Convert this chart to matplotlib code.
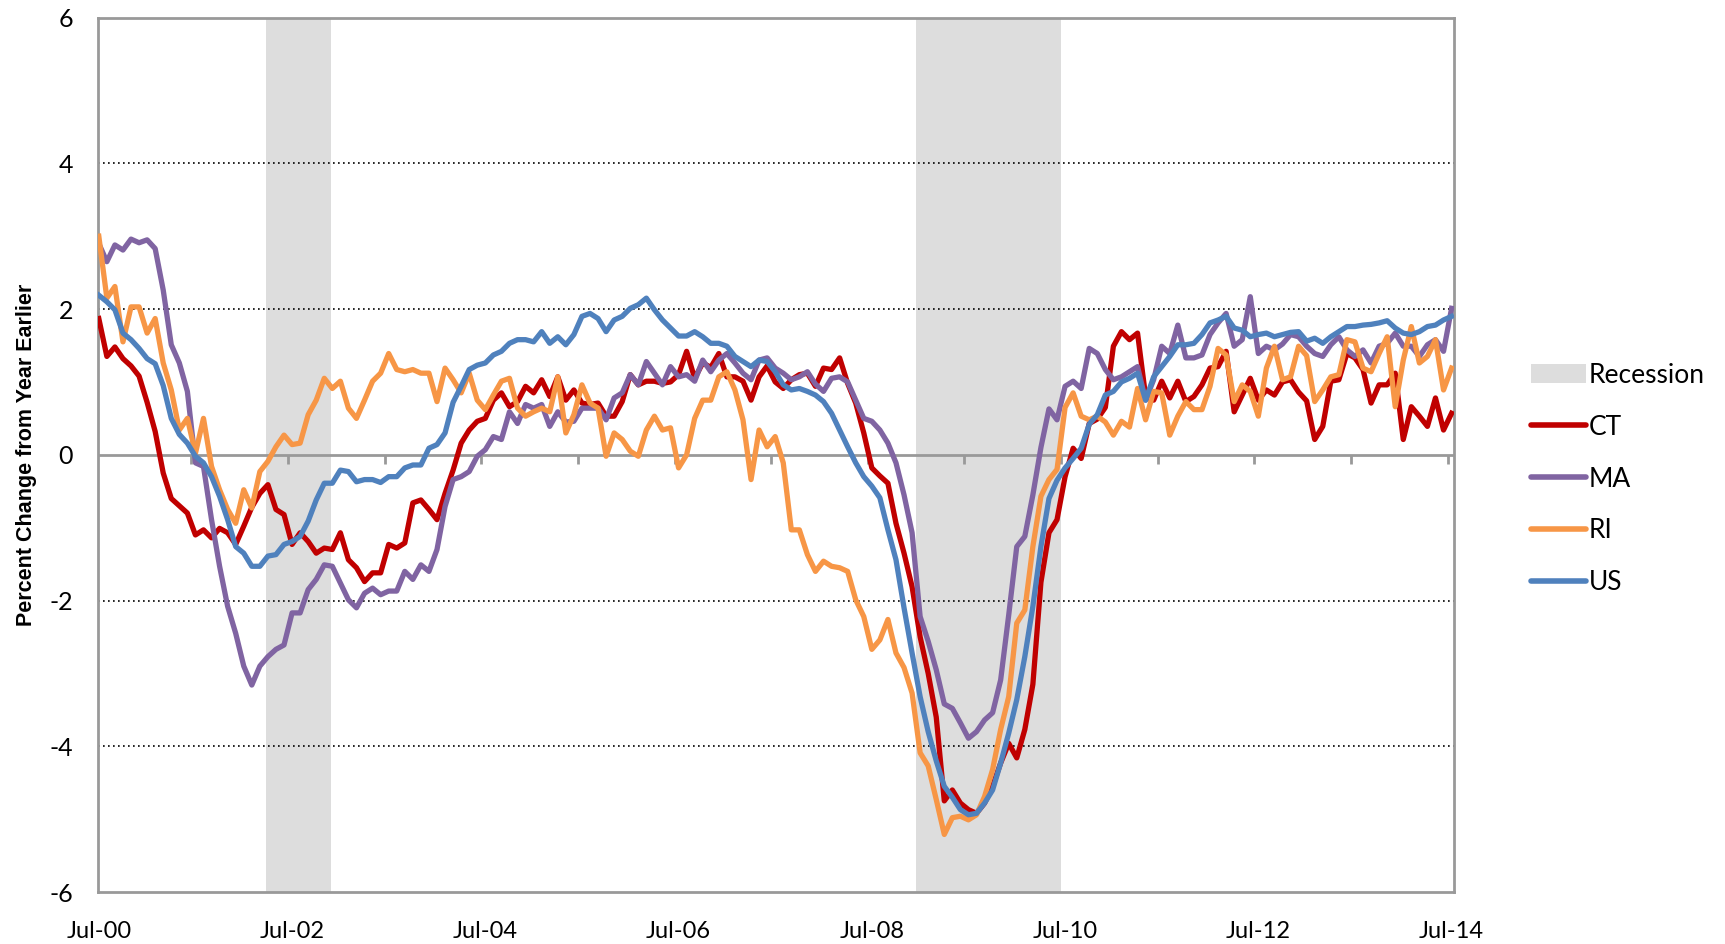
import matplotlib
matplotlib.use("Agg")
import matplotlib.pyplot as plt
from matplotlib.patches import Patch
from matplotlib.lines import Line2D
import numpy as np

# monthly year-over-year % change, Jul-2000 .. Jul-2014 (169 months)
ct = [1.87, 1.35, 1.48, 1.32, 1.22, 1.08, 0.72, 0.32, -0.25, -0.60, -0.70, -0.80,
      -1.10, -1.03, -1.14, -1.01, -1.07, -1.23, -0.98, -0.72, -0.53, -0.41, -0.75, -0.82,
      -1.23, -1.07, -1.19, -1.35, -1.28, -1.30, -1.07, -1.44, -1.55, -1.74, -1.62, -1.62,
      -1.23, -1.28, -1.21, -0.66, -0.62, -0.75, -0.89, -0.53, -0.21, 0.16, 0.34, 0.46,
      0.50, 0.75, 0.85, 0.66, 0.73, 0.94, 0.85, 1.03, 0.80, 1.07, 0.75, 0.89,
      0.71, 0.69, 0.71, 0.53, 0.53, 0.73, 1.10, 0.96, 1.01, 1.01, 0.98, 1.00,
      1.10, 1.42, 1.05, 1.26, 1.20, 1.39, 1.07, 1.07, 1.01, 0.75, 1.07, 1.22,
      1.00, 0.91, 1.03, 1.10, 1.12, 0.94, 1.19, 1.17, 1.33, 0.98, 0.71, 0.30,
      -0.18, -0.29, -0.39, -0.94, -1.35, -1.81, -2.50, -3.00, -3.60, -4.75, -4.60, -4.78,
      -4.87, -4.92, -4.78, -4.55, -4.23, -3.96, -4.16, -3.77, -3.15, -1.75, -1.07, -0.89,
      -0.30, 0.09, -0.05, 0.43, 0.49, 0.65, 1.49, 1.69, 1.58, 1.67, 0.80, 0.75,
      1.01, 0.78, 1.01, 0.73, 0.80, 0.96, 1.19, 1.21, 1.42, 0.59, 0.82, 1.05,
      0.75, 0.89, 0.82, 1.00, 1.03, 0.86, 0.74, 0.21, 0.39, 1.01, 1.03, 1.39,
      1.33, 1.17, 0.71, 0.96, 0.96, 1.12, 0.21, 0.66, 0.53, 0.39, 0.78, 0.34,
      0.57]
ma = [2.90, 2.65, 2.88, 2.81, 2.96, 2.91, 2.95, 2.83, 2.26, 1.51, 1.26, 0.87,
      -0.11, -0.16, -0.89, -1.53, -2.08, -2.45, -2.90, -3.16, -2.90, -2.77, -2.67, -2.61,
      -2.17, -2.17, -1.85, -1.71, -1.51, -1.53, -1.76, -1.99, -2.10, -1.90, -1.83, -1.92,
      -1.87, -1.87, -1.60, -1.71, -1.51, -1.60, -1.30, -0.71, -0.34, -0.30, -0.23, -0.02,
      0.07, 0.25, 0.21, 0.59, 0.43, 0.69, 0.64, 0.69, 0.39, 0.59, 0.45, 0.46,
      0.64, 0.64, 0.64, 0.48, 0.78, 0.85, 1.10, 0.96, 1.28, 1.12, 0.96, 1.21,
      1.07, 1.10, 1.01, 1.30, 1.14, 1.30, 1.39, 1.26, 1.12, 1.03, 1.30, 1.33,
      1.19, 1.12, 1.03, 1.07, 1.14, 0.97, 0.87, 1.05, 1.07, 1.00, 0.75, 0.50,
      0.46, 0.34, 0.16, -0.11, -0.55, -1.07, -2.22, -2.56, -2.95, -3.42, -3.48, -3.68,
      -3.89, -3.80, -3.64, -3.54, -3.09, -2.20, -1.26, -1.12, -0.55, 0.10, 0.63, 0.48,
      0.94, 1.01, 0.91, 1.46, 1.39, 1.17, 1.03, 1.07, 1.14, 1.21, 0.75, 1.03,
      1.49, 1.39, 1.78, 1.33, 1.33, 1.37, 1.65, 1.81, 1.94, 1.49, 1.58, 2.17,
      1.39, 1.49, 1.44, 1.52, 1.65, 1.62, 1.49, 1.39, 1.35, 1.51, 1.62, 1.44,
      1.35, 1.44, 1.26, 1.49, 1.53, 1.67, 1.49, 1.49, 1.35, 1.51, 1.58, 1.42,
      2.01]
ri = [3.00, 2.15, 2.31, 1.55, 2.03, 2.03, 1.67, 1.87, 1.26, 0.89, 0.34, 0.50,
      0.02, 0.50, -0.16, -0.48, -0.75, -0.94, -0.48, -0.73, -0.23, -0.09, 0.11, 0.27,
      0.14, 0.16, 0.55, 0.75, 1.05, 0.91, 1.01, 0.64, 0.50, 0.75, 1.01, 1.12,
      1.39, 1.17, 1.14, 1.17, 1.12, 1.12, 0.73, 1.19, 1.03, 0.85, 1.12, 0.75,
      0.62, 0.82, 1.01, 1.05, 0.64, 0.53, 0.59, 0.64, 0.59, 1.07, 0.30, 0.55,
      0.96, 0.71, 0.64, -0.02, 0.30, 0.21, 0.05, -0.02, 0.34, 0.53, 0.34, 0.37,
      -0.18, 0.00, 0.50, 0.75, 0.75, 1.07, 1.14, 0.89, 0.48, -0.34, 0.34, 0.11,
      0.25, -0.11, -1.03, -1.03, -1.37, -1.60, -1.46, -1.53, -1.55, -1.60, -1.99, -2.22,
      -2.67, -2.54, -2.26, -2.72, -2.92, -3.27, -4.09, -4.27, -4.73, -5.21, -4.98, -4.96,
      -5.01, -4.94, -4.69, -4.32, -3.77, -3.32, -2.31, -2.13, -1.26, -0.57, -0.34, -0.20,
      0.65, 0.85, 0.53, 0.48, 0.53, 0.45, 0.27, 0.46, 0.38, 0.91, 0.48, 0.87,
      0.85, 0.27, 0.53, 0.73, 0.62, 0.62, 0.94, 1.46, 1.37, 0.73, 0.96, 0.87,
      0.53, 1.19, 1.49, 1.03, 1.07, 1.49, 1.36, 0.73, 0.89, 1.07, 1.10, 1.58,
      1.55, 1.19, 1.14, 1.39, 1.62, 0.66, 1.30, 1.76, 1.26, 1.35, 1.58, 0.89,
      1.19]
us = [2.19, 2.10, 1.99, 1.67, 1.58, 1.46, 1.32, 1.25, 0.95, 0.50, 0.28, 0.16,
      -0.02, -0.11, -0.30, -0.57, -0.89, -1.26, -1.35, -1.53, -1.53, -1.39, -1.37, -1.23,
      -1.19, -1.12, -0.91, -0.62, -0.39, -0.39, -0.21, -0.23, -0.37, -0.34, -0.34, -0.38,
      -0.30, -0.30, -0.18, -0.14, -0.14, 0.09, 0.14, 0.30, 0.72, 0.94, 1.17, 1.23,
      1.26, 1.37, 1.42, 1.53, 1.58, 1.58, 1.55, 1.69, 1.53, 1.62, 1.51, 1.65,
      1.90, 1.94, 1.87, 1.69, 1.85, 1.90, 2.01, 2.06, 2.15, 1.99, 1.85, 1.74,
      1.63, 1.63, 1.69, 1.62, 1.53, 1.53, 1.49, 1.35, 1.28, 1.21, 1.30, 1.28,
      1.14, 0.96, 0.89, 0.91, 0.87, 0.82, 0.73, 0.57, 0.34, 0.11, -0.11, -0.30,
      -0.43, -0.59, -1.03, -1.44, -2.10, -2.72, -3.32, -3.80, -4.20, -4.55, -4.70, -4.87,
      -4.94, -4.92, -4.78, -4.60, -4.23, -3.82, -3.36, -2.77, -2.08, -1.26, -0.60, -0.35,
      -0.18, -0.05, 0.09, 0.42, 0.55, 0.82, 0.87, 1.00, 1.05, 1.12, 0.75, 1.07,
      1.21, 1.35, 1.51, 1.51, 1.53, 1.65, 1.81, 1.85, 1.90, 1.74, 1.71, 1.62,
      1.65, 1.67, 1.62, 1.65, 1.68, 1.69, 1.56, 1.60, 1.53, 1.62, 1.69, 1.76,
      1.76, 1.78, 1.79, 1.81, 1.84, 1.74, 1.67, 1.65, 1.69, 1.76, 1.78, 1.85,
      1.90]

series_names = ["CT", "MA", "RI", "US"]
series_colors = ["#C00000", "#8064A2", "#F79646", "#4F81BD"]

# recessions, in months since Jul-2000
recession_start = [20.8, 101.5]
recession_end = [28.8, 119.5]

xtick_labels = ["Jul-00", "Jul-02", "Jul-04", "Jul-06", "Jul-08", "Jul-10", "Jul-12", "Jul-14"]
yticks = [-6, -4, -2, 0, 2, 4, 6]

font = ["Lato", "DejaVu Sans"]
months = np.arange(len(ct))

fig = plt.figure(figsize=(17.25, 9.44), dpi=100)
ax = fig.add_axes([98 / 1725, 1 - 892 / 944, 1356 / 1725, (892 - 17.6) / 944])

for s, e in zip(recession_start, recession_end):
    ax.axvspan(s, e, color="#DDDDDD", lw=0, zorder=0)

for y in yticks:
    if y in (-6, 0, 6):
        continue
    ax.axhline(y, color="black", lw=1.2, ls=(0, (1, 2)), zorder=1)
ax.axhline(0, color="#999999", lw=2, zorder=1)
ax.vlines(np.arange(11.5, months[-1], 12), -0.12, 0, color="#999999", lw=2, zorder=1)

for vals, name, col in zip([ct, ma, ri, us], series_names, series_colors):
    ax.plot(months, vals, color=col, lw=3.8, label=name, zorder=3, solid_joinstyle="round")

ax.set_xlim(-0.1, 168.3)
ax.set_ylim(-6, 6)
ax.set_yticks(yticks)
ax.set_yticklabels([str(y) for y in yticks], family=font, fontsize=18)
ax.set_xticks(np.arange(0, 169, 24))
ax.set_xticklabels(xtick_labels, family=font, fontsize=17)
ax.tick_params(length=0)
ax.tick_params(axis="y", pad=18)
ax.tick_params(axis="x", pad=21)
for sp in ax.spines.values():
    sp.set_color("#999999")
    sp.set_linewidth(2)

ax.set_ylabel("Percent Change from Year Earlier", family=["Liberation Sans", "DejaVu Sans"],
              fontweight="bold", fontsize=15.5, labelpad=9)

handles = [Patch(facecolor="#DDDDDD", edgecolor="none", label="Recession")]
handles += [Line2D([], [], color=c, lw=4, label=n, solid_capstyle="round")
            for n, c in zip(series_names, series_colors)]
fig.legend(handles=handles, loc="center left", bbox_to_anchor=(1520 / 1725, 1 - 479 / 944),
           frameon=False, prop={"family": font, "size": 19}, handlelength=2.1,
           handletextpad=0.1, labelspacing=1.02, borderaxespad=0)

fig.savefig("out.png", dpi=100)
